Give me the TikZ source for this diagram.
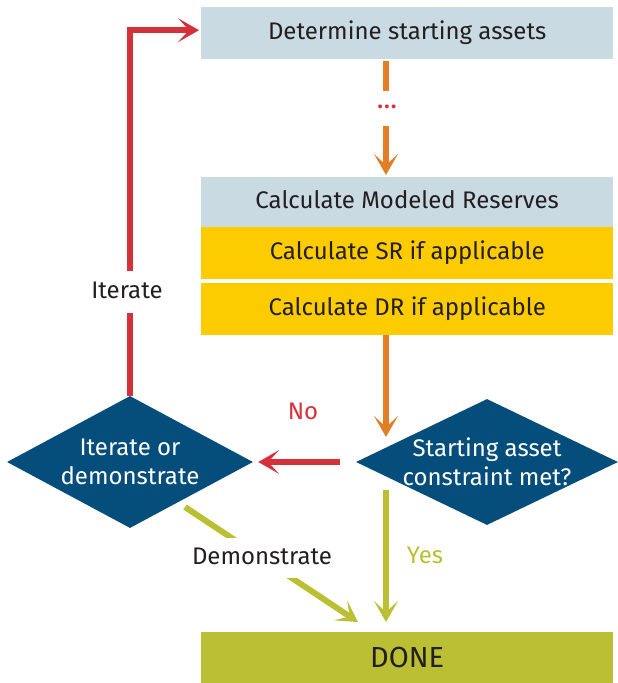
\documentclass[tikz,border=0pt]{standalone}
\usepackage{fontspec}
\setmainfont{Fira Sans}
\usetikzlibrary{arrows.meta,shapes.geometric}
\definecolor{boxblue}{HTML}{C9DAE2}
\definecolor{boxyellow}{HTML}{FCCB00}
\definecolor{decblue}{HTML}{054E7C}
\definecolor{flowred}{HTML}{D6313A}
\definecolor{floworange}{HTML}{E27F26}
\definecolor{flowolive}{HTML}{BBBF34}
\definecolor{doneolive}{HTML}{BBBF34}
\definecolor{inkdark}{HTML}{231F20}

\begin{document}
\begin{tikzpicture}[x=1pt,y=-1pt,
  txt/.style={font=\fontsize{24}{29}\selectfont, text=inkdark,
    text height=17pt, text depth=5pt},
  stepbox/.style={txt, minimum width=412pt, inner sep=0pt, anchor=north west},
  decision/.style={shape=diamond, fill=decblue, inner sep=0pt},
  dectext/.style={text=white, align=center, font=\fontsize{24}{29}\selectfont},
  flow/.style={line width=6pt},
  tip/.style={-{Stealth[length=21pt, width=24pt, inset=11pt, line width=0pt]}},
  gaplabel/.style={txt, fill=white, inner xsep=3pt}
]
\useasboundingbox (0,0) rectangle (618,683);

% vertical line of the main flow
\coordinate (axis) at (386,0);

% process steps
\node[stepbox, fill=boxblue, minimum height=52pt] (start) at (201,7) {Determine starting assets};
\node[text=flowred, font=\fontsize{28}{28}\selectfont, inner sep=0pt] (dots) at (387,107) {...};
\node[stepbox, fill=boxblue, minimum height=50pt] (mr) at (201,177) {Calculate Modeled Reserves};
\node[stepbox, fill=boxyellow, minimum height=52pt] (sr) at (201,227) {Calculate SR if applicable};
\node[stepbox, fill=boxyellow, minimum height=52pt] (dr) at (201,283) {Calculate DR if applicable};
\node[stepbox, fill=doneolive, minimum height=52pt, font=\fontsize{29}{29}\selectfont,
  text height=20pt, text depth=2pt] (done) at (201,632) {DONE};

% decisions (text set as a centred label so the text does not widen the shape)
\node[decision, minimum width=262pt, minimum height=126pt,
  label={[dectext]center:Starting asset\\constraint met?}] (check) at (487,462) {};
\node[decision, minimum width=246pt, minimum height=132pt,
  label={[dectext]center:Iterate or\\demonstrate}] (choice) at (130,462) {};

% connectors
\draw[flow, draw=floworange, shorten <=2pt, shorten >=16pt] (start.south -| axis) -- (dots.center -| axis);
\draw[flow, draw=floworange, tip, shorten <=19pt, shorten >=2pt] (dots.center -| axis) -- (mr.north -| axis);
\draw[flow, draw=floworange, tip, shorten >=25pt] (dr.south -| axis) -- (check.west -| axis);

\draw[flow, draw=flowred, tip, shorten <=16pt, shorten >=5pt] (check.west) -- (choice.east);
\draw[flow, draw=flowred, tip, shorten >=2pt] (choice.north) |- ([yshift=3pt]start.west);

\draw[flow, draw=flowolive, tip, shorten <=28pt, shorten >=10pt] (check.west -| axis) -- (done.north -| axis);

\coordinate (demoA) at (185,507);
\coordinate (demoB) at (358,622);
\draw[flow, draw=flowolive, tip] (demoA) -- (demoB);

% connector labels
\node[gaplabel, inner ysep=10pt] (itlab) at (127,292) {Iterate};
\node[gaplabel, inner ysep=9pt] (demolab) at (262,558) {Demonstrate};
\node[txt, text=flowred] (nolab) at (303,413) {No};
\node[txt, text=flowolive] (yeslab) at (425,557) {Yes};
\end{tikzpicture}
\end{document}
